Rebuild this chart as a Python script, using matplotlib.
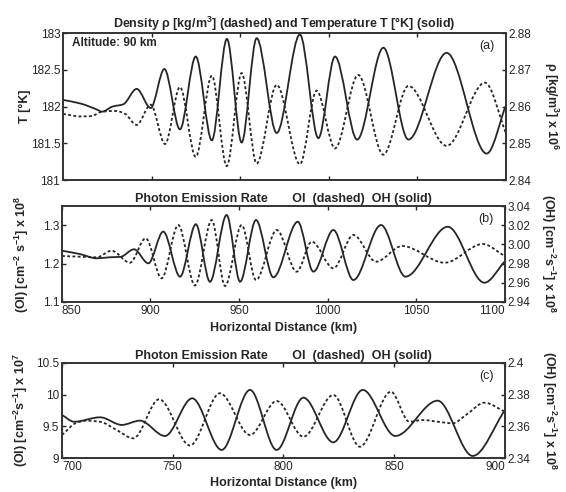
import numpy as np
import matplotlib
matplotlib.use("Agg")
import matplotlib.pyplot as plt
from matplotlib.path import Path
from matplotlib.patches import PathPatch

plt.rcParams['font.family'] = ['Liberation Sans', 'DejaVu Sans']
plt.rcParams['mathtext.default'] = 'regular'

# (a) temperature (solid, left) and density (dashed, right), altitude 90 km
a_T_km = [850, 860, 869, 872, 878, 884, 891.6, 899.5, 907.2, 916, 924.9, 934, 942.5,
          950.8, 959.3, 970.6, 983.7, 994.1, 1003.5, 1016, 1030.8, 1044.9, 1066.5,
          1089.1, 1100]
a_T = [182.09, 182.04, 181.96, 181.93, 182.00, 182.03, 182.24, 181.98, 182.51, 181.69,
       182.68, 181.54, 182.92, 181.51, 182.93, 181.64, 182.98, 181.57, 182.68, 181.55,
       182.80, 181.55, 182.73, 181.36, 182.02]
a_rho_km = [850, 860, 866, 872, 880, 885, 891.6, 899.5, 907.6, 916, 924.9, 934, 942.4,
            950.8, 959.3, 970.6, 983.7, 993.1, 1003.5, 1016.6, 1030.8, 1044.9, 1066.5,
            1088.1, 1100]
a_rho = [2.8580, 2.8573, 2.8574, 2.8586, 2.8588, 2.8580, 2.8550, 2.8605, 2.8498, 2.8653,
         2.8463, 2.8684, 2.8438, 2.8691, 2.8445, 2.8659, 2.8443, 2.8643, 2.8486, 2.8686,
         2.8469, 2.8656, 2.8493, 2.8665, 2.8527]

# (b) emission rates, OI dashed (left) and OH solid (right)
b_OI_km = [850, 860, 869.6, 878, 888.4, 897.3, 906.3, 915.7, 925.1, 934.6, 942.1, 951.5,
           959.6, 971.3, 982.6, 991.1, 1003.3, 1014.6, 1027.4, 1042.1, 1066.2, 1087.7, 1100]
b_OI = [1.2198, 1.2180, 1.2164, 1.2336, 1.2023, 1.2659, 1.1617, 1.3005, 1.1430, 1.3135,
        1.1417, 1.3005, 1.1573, 1.2875, 1.1789, 1.2570, 1.1878, 1.2745, 1.2050, 1.2458,
        1.2023, 1.2510, 1.2198]
b_OH_km = [850, 860, 869.6, 877, 883, 890.7, 898.8, 907.2, 916.7, 925.6, 933.6, 943.0,
           950.6, 959.6, 969.4, 983.2, 992.0, 1003.3, 1014.6, 1030.2, 1044.0, 1067.9,
           1088.6, 1100]
b_OH = [2.9934, 2.9900, 2.9855, 2.9866, 2.9870, 2.9949, 2.9803, 3.0133, 2.9664, 3.0210,
        2.9611, 3.0306, 2.9611, 3.0254, 2.9657, 3.0236, 2.9716, 3.0150, 2.9629, 3.0202,
        2.9664, 3.0184, 2.9601, 2.9820]

# (c) emission rates, OI dashed (left) and OH solid (right)
c_OI_km = [700, 706.6, 711.1, 717.2, 724.7, 732.2, 743.9, 757.8, 771.3, 784.9, 796.9,
           809.0, 822.5, 834.5, 848.5, 856.8, 862.8, 869.6, 876.4, 882.4, 890.7, 900]
c_OI = [9.363, 9.557, 9.589, 9.573, 9.442, 9.311, 9.927, 9.197, 10.022, 9.363, 9.900,
        9.336, 9.995, 9.178, 10.047, 9.573, 9.600, 9.573, 9.548, 9.679, 9.873, 9.731]
c_OH_km = [700, 705.5, 717.2, 727.0, 735.2, 746.5, 758.8, 772.1, 784.9, 796.9, 809.0,
           822.5, 835.8, 850.5, 869.6, 885.4, 900]
c_OH = [2.3672, 2.3629, 2.3657, 2.3609, 2.3636, 2.3539, 2.3777, 2.3451, 2.3830, 2.3451,
        2.3781, 2.3499, 2.3830, 2.3539, 2.3762, 2.3413, 2.3703]

ink = '#262626'
dash = (0, (1.6, 1.3))


def smooth(ax, xs, ys, ls):
    # draw the read points as one smooth bezier line (zero slope at peaks)
    x = np.asarray(xs, float)
    y = np.asarray(ys, float)
    d = np.diff(y) / np.diff(x)
    m = np.zeros(len(x))
    for i in range(1, len(x) - 1):
        if d[i - 1] * d[i] > 0:
            m[i] = 2.0 / (1.0 / d[i - 1] + 1.0 / d[i])
    m[0] = d[0]
    m[-1] = d[-1]
    verts = [(x[0], y[0])]
    codes = [Path.MOVETO]
    for i in range(len(x) - 1):
        h = x[i + 1] - x[i]
        verts += [(x[i] + h / 3, y[i] + m[i] * h / 3),
                  (x[i + 1] - h / 3, y[i + 1] - m[i + 1] * h / 3),
                  (x[i + 1], y[i + 1])]
        codes += [Path.CURVE4] * 3
    ax.add_patch(PathPatch(Path(verts, codes), fill=False, ec=ink, lw=1.3, ls=ls))


def frame(ax, ax2):
    for a in (ax, ax2):
        for s in a.spines.values():
            s.set_linewidth(1.2)
            s.set_color('#333333')
    ax.tick_params(direction='in', top=True, length=3, width=1, colors=ink,
                   labelsize=8.5, pad=2)
    ax2.tick_params(direction='in', length=3, width=1, colors=ink,
                    labelsize=8.5, pad=2)


def end_labels(ax):
    # first and last x labels sit inside the axis ends, like matlab
    labs = ax.get_xticklabels()
    labs[0].set_horizontalalignment('left')
    labs[-1].set_horizontalalignment('right')


fig = plt.figure(figsize=(5.66, 4.92), dpi=100)

# ---- panel (a)
ax = fig.add_axes([0.1113, 0.6341, 0.7827, 0.2988])
ax2 = ax.twinx()
smooth(ax, a_T_km, a_T, '-')
smooth(ax2, a_rho_km, a_rho, dash)
ax.set_xlim(850, 1100)
ax.set_ylim(181, 183)
ax2.set_ylim(2.84, 2.88)
ax.set_xticks([900, 950, 1000, 1050])
ax.set_xticklabels([])
ax.set_yticks([181, 181.5, 182, 182.5, 183])
ax.set_yticklabels(['181', '181.5', '182', '182.5', '183'])
ax2.set_yticks([2.84, 2.85, 2.86, 2.87, 2.88])
ax2.set_yticklabels(['2.84', '2.85', '2.86', '2.87', '2.88'])
frame(ax, ax2)
ax.set_title('Density ρ [kg/m$^3$] (dashed) and Temperature T [°K] (solid)',
             fontsize=9, fontweight='bold', color=ink, pad=3)
ax.set_ylabel('T [°K]', fontsize=9, fontweight='bold', color=ink)
ax.yaxis.set_label_coords(-0.072, 0.5)
ax2.set_ylabel('ρ [kg/m$^3$] x 10$^6$', fontsize=9, fontweight='bold', color=ink,
               rotation=270, va='bottom')
ax2.yaxis.set_label_coords(1.082, 0.5)
ax.text(0.02, 0.93, 'Altitude: 90 km', transform=ax.transAxes, fontsize=8.5,
        fontweight='bold', color=ink, va='center')
ax.text(0.975, 0.91, '(a)', transform=ax.transAxes, fontsize=9, color=ink,
        ha='right', va='center')

# ---- panel (b)
bx = fig.add_axes([0.1095, 0.3862, 0.782, 0.1951])
bx2 = bx.twinx()
smooth(bx, b_OI_km, b_OI, dash)
smooth(bx2, b_OH_km, b_OH, '-')
bx.set_xlim(850, 1100)
bx.set_ylim(1.1, 1.35)
bx2.set_ylim(2.94, 3.04)
bx.set_xticks([850, 900, 950, 1000, 1050, 1100])
bx.set_yticks([1.1, 1.2, 1.3])
bx.set_yticklabels(['1.1', '1.2', '1.3'])
bx2.set_yticks([2.94, 2.96, 2.98, 3.00, 3.02, 3.04])
bx2.set_yticklabels(['2.94', '2.96', '2.98', '3.00', '3.02', '3.04'])
frame(bx, bx2)
end_labels(bx)
bx.set_title('Photon Emission Rate       OI  (dashed)  OH (solid)',
             fontsize=9, fontweight='bold', color=ink, pad=3)
bx.set_xlabel('Horizontal Distance (km)', fontsize=9, fontweight='bold',
              color=ink, labelpad=4)
bx.set_ylabel('(OI) [cm$^{-2}$ s$^{-1}$] x 10$^8$', fontsize=9, fontweight='bold',
              color=ink)
bx.yaxis.set_label_coords(-0.07, 0.5)
bx2.set_ylabel('(OH) [cm$^{-2}$s$^{-1}$] x 10$^8$', fontsize=9, fontweight='bold',
               color=ink, rotation=270, va='bottom')
bx2.yaxis.set_label_coords(1.078, 0.5)
bx.text(0.975, 0.86, '(b)', transform=bx.transAxes, fontsize=9, color=ink,
        ha='right', va='center')

# ---- panel (c)
cx = fig.add_axes([0.1095, 0.0691, 0.7827, 0.1931])
cx2 = cx.twinx()
smooth(cx, c_OI_km, c_OI, dash)
smooth(cx2, c_OH_km, c_OH, '-')
cx.set_xlim(700, 900)
cx.set_ylim(9, 10.5)
cx2.set_ylim(2.34, 2.40)
cx.set_xticks([700, 750, 800, 850, 900])
cx.set_yticks([9, 9.5, 10, 10.5])
cx.set_yticklabels(['9', '9.5', '10', '10.5'])
cx2.set_yticks([2.34, 2.36, 2.38, 2.40])
cx2.set_yticklabels(['2.34', '2.36', '2.38', '2.4'])
frame(cx, cx2)
end_labels(cx)
cx.set_title('Photon Emission Rate       OI  (dashed)  OH (solid)',
             fontsize=9, fontweight='bold', color=ink, pad=3)
cx.set_xlabel('Horizontal Distance (km)', fontsize=9, fontweight='bold',
              color=ink, labelpad=3)
cx.set_ylabel('(OI) [cm$^{-2}$s$^{-1}$] x 10$^7$', fontsize=9, fontweight='bold',
              color=ink)
cx.yaxis.set_label_coords(-0.072, 0.5)
cx2.set_ylabel('(OH) [cm$^{-2}$s$^{-1}$] x 10$^8$', fontsize=9, fontweight='bold',
               color=ink, rotation=270, va='bottom')
cx2.yaxis.set_label_coords(1.078, 0.5)
cx.text(0.975, 0.86, '(c)', transform=cx.transAxes, fontsize=9, color=ink,
        ha='right', va='center')

fig.savefig('out.png', dpi=100)
